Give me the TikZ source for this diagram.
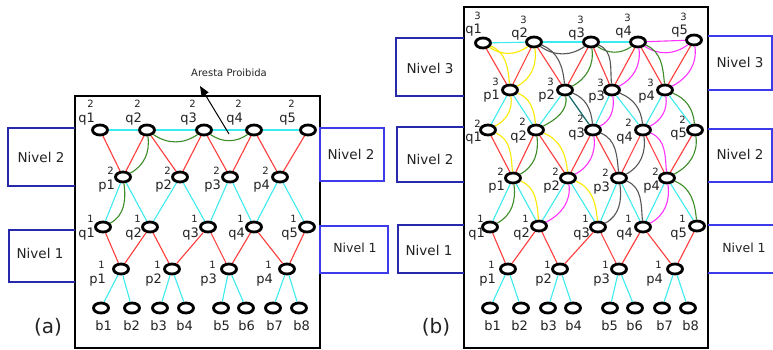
\documentclass[tikz,border=0pt]{standalone}
\usepackage{fontspec}
\setmainfont{DejaVu Sans}
\usetikzlibrary{shapes.geometric, arrows.meta}

\definecolor{edgeRed}{RGB}{255,60,60}
\definecolor{edgeCyan}{RGB}{60,235,240}
\definecolor{edgeTeal}{RGB}{40,95,95}
\definecolor{pathGreen}{RGB}{60,140,40}
\definecolor{pathYellow}{RGB}{250,235,0}
\definecolor{pathGray}{RGB}{85,85,85}
\definecolor{pathMagenta}{RGB}{255,50,255}
\definecolor{boxBlueDark}{RGB}{40,40,170}
\definecolor{boxBlue}{RGB}{60,60,235}
\definecolor{inkText}{RGB}{35,35,35}

% vertex label: letter, index, level written above the index
\newcommand{\vlab}[3]{#1\makebox[0pt][l]{\makebox[8.2pt]{\raisebox{14.5pt}{\fontsize{10}{10}\selectfont #3}}}#2}

\tikzset{
  vtx/.style={draw=black, line width=2.8pt, ellipse, minimum width=15pt, minimum height=10pt, inner sep=0pt, fill=white},
  vlabel/.style={anchor=base east, inner sep=0pt, text=inkText, font=\fontsize{13}{13}\selectfont},
  redE/.style={draw=edgeRed, line width=1.1pt},
  cyanE/.style={draw=edgeCyan, line width=1.1pt},
  curveE/.style={line width=1.1pt},
  yel/.style={curveE, draw=pathYellow},
  grn/.style={curveE, draw=pathGreen},
  gry/.style={curveE, draw=pathGray},
  mag/.style={curveE, draw=pathMagenta},
  frame/.style={draw=black, line width=2.6pt},
  nivL/.style={draw=boxBlueDark, line width=1.1pt},
  nivR/.style={draw=boxBlue, line width=1.1pt},
  nivtext/.style={text=inkText, inner sep=0pt, font=\fontsize{13.5}{13.5}\selectfont},
  % path pieces: towards a lower-left vertex, towards a lower-right vertex
  dl/.style={out=-82, in=28},
  dr/.style={out=-22, in=95},
  dip/.style={bend right=35}
}

\begin{document}
\begin{tikzpicture}[x=1pt, y=-1pt]
\useasboundingbox (0,0) rectangle (773,350);
\fill[white] (0,0) rectangle (773,350);

% ---------- frames ----------
\draw[frame] (75,96) rectangle (320,348);
\draw[frame] (464,7) rectangle (708,348);

% ---------- level boxes ----------
\draw[nivL] (75,128) -| (8,186) -- (75,186);
\node[nivtext] (na2L) at (41,157) {Nivel 2};
\draw[nivL] (75,230) -| (9,282) -- (75,282);
\node[nivtext] (na1L) at (40,253) {Nivel 1};
\draw[nivR] (320,128) rectangle (384,181);
\node[nivtext] (na2R) at (351,154) {Nivel 2};
\draw[nivR] (320,226) rectangle (388,273);
\node[nivtext, font=\fontsize{12.5}{12.5}\selectfont] (na1R) at (355,248) {Nivel 1};

\draw[nivL] (464,38) -| (396,96) -- (464,96);
\node[nivtext] (nb3L) at (430,68) {Nivel 3};
\draw[nivL] (464,127) -| (397,182) -- (464,182);
\node[nivtext] (nb2L) at (430,159) {Nivel 2};
\draw[nivL] (464,225) -| (398,273) -- (464,273);
\node[nivtext] (nb1L) at (429,250) {Nivel 1};
\draw[nivR] (708,36) -| (772,90) -- (708,90);
\node[nivtext] (nb3R) at (740,62) {Nivel 3};
\draw[nivR] (708,129) -| (772,182) -- (708,182);
\node[nivtext] (nb2R) at (740,154) {Nivel 2};
\draw[nivR] (708,225) -- (773,225);
\draw[nivR] (708,273) -- (773,273);
\node[nivtext, font=\fontsize{12.5}{12.5}\selectfont] (nb1R) at (744,248) {Nivel 1};

% ---------- captions ----------
\node[text=inkText, font=\fontsize{20}{20}\selectfont, inner sep=0pt] (capA) at (48,327) {(a)};
\node[text=inkText, font=\fontsize{20}{20}\selectfont, inner sep=0pt] (capB) at (436,327) {(b)};

% ---------- vertices ----------
\foreach \n/\x/\y/\l/\d/\s/\lx/\ly in {
  aq12/100/130/q/1/2/95/122, aq22/147/130/q/2/2/142/122, aq32/204/130/q/3/2/197/122,
  aq42/254/130/q/4/2/243/122, aq52/308/130/q/5/2/296/122,
  ap12/123/177/p/1/2/115/189, ap22/180/177/p/2/2/172/189, ap32/230/177/p/3/2/221/189,
  ap42/280/177/p/4/2/270/189,
  aq11/103/227/q/1/1/95/237, aq21/150/227/q/2/1/142/237, aq31/208/227/q/3/1/199/237,
  aq41/254/227/q/4/1/245/237, aq51/307/227/q/5/1/298/237,
  ap11/121/269/p/1/1/106/283, ap21/172/269/p/2/1/162/283, ap31/229/269/p/3/1/217/283,
  ap41/287/269/p/4/1/273/283,
  bq13/483/43/q/1/3/482/34, bq23/534/42/q/2/3/528/38, bq33/591/42/q/3/3/585/38,
  bq43/638/42/q/4/3/632/36, bq53/694/40/q/5/3/688/35,
  bp13/510/90/p/1/3/500/100, bp23/565/90/p/2/3/555/100, bp33/612/90/p/3/3/605/101,
  bp43/665/90/p/4/3/655/101,
  bq12/488/130/q/1/2/482/142, bq22/536/130/q/2/2/527/140, bq32/593/130/q/3/2/585/137,
  bq42/643/130/q/4/2/633/141, bq52/695/130/q/5/2/687/138,
  bp12/513/178/p/1/2/505/190, bp22/568/178/p/2/2/560/190, bp32/619/178/p/3/2/610/191,
  bp42/667/178/p/4/2/660/190,
  bq11/490/227/q/1/1/485/237, bq21/539/226/q/2/1/530/237, bq31/598/227/q/3/1/590/237,
  bq41/643/227/q/4/1/633/237, bq51/697/226/q/5/1/687/237,
  bp11/508/269/p/1/1/496/283, bp21/560/269/p/2/1/552/283, bp31/619/269/p/3/1/610/283,
  bp41/675/269/p/4/1/663/283}
{
  \node[vtx] (\n) at (\x,\y) {};
  \node[vlabel] (\n-lab) at (\lx,\ly) {\vlab{\l}{\d}{\s}};
}
\foreach \n/\x/\d/\lx in {
  ab1/101/1/112, ab2/132/2/140, ab3/160/3/167, ab4/186/4/193,
  ab5/221/5/230, ab6/246/6/255, ab7/273/7/283, ab8/299/8/310,
  bb1/490/1/501, bb2/521/2/528, bb3/548/3/557, bb4/573/4/582,
  bb5/610/5/618, bb6/635/6/643, bb7/662/7/673, bb8/688/8/699}
{
  \node[vtx] (\n) at (\x,308) {};
  \node[vlabel] (\n-lab) at (\lx,330) {b\d};
}

% ---------- tree edges ----------
\foreach \P/\L in {a/2, a/1, b/3, b/2, b/1} {
  \foreach \i [evaluate=\i as \j using int(\i+1)] in {1,...,4} {
    \draw[redE] (\P q\i\L) -- (\P p\i\L);
    \draw[redE] (\P q\j\L) -- (\P p\i\L);
  }
}
\foreach \P/\L/\M in {a/2/1, b/3/2, b/2/1} {
  \foreach \i [evaluate=\i as \j using int(\i+1)] in {1,...,4} {
    \draw[cyanE] (\P p\i\L) -- (\P q\i\M);
    \draw[cyanE] (\P p\i\L) -- (\P q\j\M);
  }
}
\foreach \P in {a, b} {
  \foreach \i [evaluate=\i as \u using int(2*\i-1), evaluate=\i as \v using int(2*\i)] in {1,...,4} {
    \draw[cyanE] (\P p\i 1) -- (\P b\u);
    \draw[cyanE] (\P p\i 1) -- (\P b\v);
  }
}
% top rows
\foreach \i [evaluate=\i as \j using int(\i+1)] in {1,...,4} {
  \draw[cyanE] (aq\i 2) -- (aq\j 2);
}
\foreach \i [evaluate=\i as \j using int(\i+1)] in {1,...,3} {
  \draw[cyanE] (bq\i 3) -- (bq\j 3);
}
\draw[mag] (bq43) -- (bq53);
\draw[curveE, draw=edgeTeal] (bp23) -- (bq32);

% ---------- paths of (a) ----------
\draw[grn] (aq22) to[dl] (ap12);
\draw[grn] (ap12) to[dl] (aq11);
\draw[grn] (aq22) to[dip] (aq32);
\draw[grn] (aq32) to[dip] (aq42);

% ---------- paths of (b) ----------
\draw[yel] (bq13) to[dip] (bq23);
\draw[gry] (bq23) to[dip] (bq33);
\draw[grn] (bq33) to[dip] (bq43);
\draw[mag] (bq43) to[dip] (bq53);

\foreach \ua/\ub/\us/\ud in {
  bq13/bp13/yel/dr, bq23/bp13/yel/dl, bq23/bp23/gry/dr, bq33/bp23/grn/dl,
  bq33/bp33/gry/dr, bq43/bp33/mag/dl, bq43/bp43/grn/dr, bq53/bp43/mag/dl,
  bp13/bq12/yel/dl, bp13/bq22/yel/dr, bp23/bq22/grn/dl, bp23/bq32/gry/dr,
  bp33/bq32/mag/dl, bp33/bq42/gry/dr, bp43/bq42/mag/dl, bp43/bq52/grn/dr,
  bq12/bp12/yel/dr, bq22/bp12/grn/dl, bq22/bp22/yel/dr, bq32/bp22/mag/dl,
  bq32/bp32/gry/dr, bq42/bp32/gry/dl, bq42/bp42/mag/dr, bq52/bp42/grn/dl,
  bp12/bq11/grn/dl, bp12/bq21/yel/dr, bp22/bq21/mag/dl, bp22/bq31/yel/dr,
  bp32/bq31/gry/dl, bp32/bq41/gry/dr, bp42/bq41/mag/dl, bp42/bq51/grn/dr} {
  \draw[\us] (\ua) to[\ud] (\ub);
}

% ---------- forbidden edge note ----------
\node[text=inkText, inner sep=0pt, font=\fontsize{10}{10}\selectfont] (apNote) at (229,73) {Aresta Proibida};
\coordinate (apTail) at (229,134);
\coordinate (apTip) at (200,86);
\draw[black, line width=1pt, -{Triangle[length=10pt,width=8pt]}] (apTail) -- (apTip);

\end{tikzpicture}
\end{document}
